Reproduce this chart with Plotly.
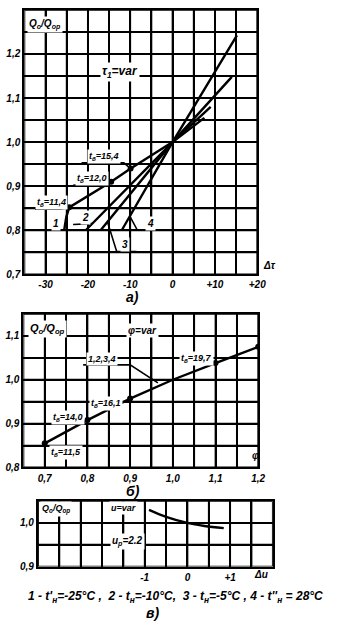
import plotly.graph_objects as go

# ---------------- data ----------------
# a) Q0/Qop vs delta tau, four curves through (0, 1)
a_l1_x = [-25.6, -25.1, -24.4, -14.5, -9.9, 0, 7.5]
a_l1_y = [0.80, 0.83, 0.852, 0.91, 0.94, 1.0, 1.055]
a_l2_x = [-20.5, 0, 9.0]
a_l2_y = [0.80, 1.0, 1.08]
a_l3_x = [-17.0, 0, 14.0]
a_l3_y = [0.80, 1.0, 1.148]
a_l4_x = [-12.0, 0, 15.2]
a_l4_y = [0.80, 1.0, 1.242]
a_pts_x = [-24.4, -14.5, -9.9]
a_pts_y = [0.852, 0.91, 0.94]
a_pts_lbl = ["t<sub>в</sub>=11,4", "t<sub>в</sub>=12,0", "t<sub>в</sub>=15,4"]
a_xrange = [-35, 20]
a_yrange = [0.7, 1.3]
a_xtick_vals = [-35, -30, -25, -20, -15, -10, -5, 0, 5, 10, 15, 20]
a_xtick_text = ["", "-30", "", "-20", "", "-10", "", "0", "", "+10", "", "+20"]
a_ytick_vals = [0.7, 0.75, 0.8, 0.85, 0.9, 0.95, 1.0, 1.05, 1.1, 1.15, 1.2, 1.25, 1.3]
a_ytick_text = ["0,7", "", "0,8", "", "0,9", "", "1,0", "", "1,1", "", "1,2", "", ""]

# b) Q0/Qop vs phi
b_x = [0.70, 0.80, 0.90, 1.00, 1.10, 1.20]
b_y = [0.855, 0.908, 0.957, 1.0, 1.038, 1.075]
b_pts_x = [0.70, 0.80, 0.90, 1.10, 1.20]
b_pts_y = [0.855, 0.908, 0.957, 1.038, 1.075]
b_xrange = [0.65, 1.2]
b_yrange = [0.8, 1.15]
b_xtick_vals = [0.65, 0.7, 0.75, 0.8, 0.85, 0.9, 0.95, 1.0, 1.05, 1.1, 1.15, 1.2]
b_xtick_text = ["", "0,7", "", "0,8", "", "0,9", "", "1,0", "", "1,1", "", "1,2"]
b_ytick_vals = [0.8, 0.85, 0.9, 0.95, 1.0, 1.05, 1.1, 1.15]
b_ytick_text = ["0,8", "", "0,9", "", "1,0", "", "1,1", ""]

# c) Q0/Qop vs delta u
c_x = [-0.9, -0.5, 0.0, 0.4, 0.85]
c_y = [1.030, 1.014, 1.0, 0.993, 0.988]
c_xrange = [-3.5, 2.0]
c_yrange = [0.9, 1.05]
c_xtick_vals = [-3.5, -3, -2.5, -2, -1.5, -1, -0.5, 0, 0.5, 1, 1.5, 2]
c_xtick_text = ["", "", "", "", "", "-1", "", "0", "", "+1", "", ""]
c_ytick_vals = [0.9, 0.95, 1.0, 1.05]
c_ytick_text = ["0,9", "", "1,0", ""]

FONT = "Liberation Sans"
TF = dict(family=FONT, size=10, color="black", style="italic", weight="bold")

fig = go.Figure()

# grid drawn as line traces built from the tick arrays (placed through each axis' scale)
def grid_trace(xv, yv, xrng, yrng, xa, ya):
    gx, gy = [], []
    for v in xv:
        gx += [v, v, None]
        gy += [yrng[0], yrng[1], None]
    for v in yv:
        gx += [xrng[0], xrng[1], None]
        gy += [v, v, None]
    return go.Scatter(x=gx, y=gy, mode="lines", line=dict(color="black", width=1.8),
                      xaxis=xa, yaxis=ya, showlegend=False, hoverinfo="skip", connectgaps=False)

fig.add_trace(grid_trace(a_xtick_vals, a_ytick_vals, a_xrange, a_yrange, "x", "y"))
fig.add_trace(grid_trace(b_xtick_vals, b_ytick_vals, b_xrange, b_yrange, "x2", "y2"))
fig.add_trace(grid_trace(c_xtick_vals, c_ytick_vals, c_xrange, c_yrange, "x3", "y3"))

LW = 2.4
for xs, ys in [(a_l1_x, a_l1_y), (a_l2_x, a_l2_y), (a_l3_x, a_l3_y), (a_l4_x, a_l4_y)]:
    fig.add_trace(go.Scatter(x=xs, y=ys, mode="lines", line=dict(color="black", width=LW),
                             xaxis="x", yaxis="y", showlegend=False))
fig.add_trace(go.Scatter(x=a_pts_x, y=a_pts_y, mode="markers", marker=dict(color="black", size=6),
                         xaxis="x", yaxis="y", showlegend=False))
fig.add_trace(go.Scatter(x=b_x, y=b_y, mode="lines", line=dict(color="black", width=LW),
                         xaxis="x2", yaxis="y2", showlegend=False))
fig.add_trace(go.Scatter(x=b_pts_x, y=b_pts_y, mode="markers", marker=dict(color="black", size=6),
                         xaxis="x2", yaxis="y2", showlegend=False))
fig.add_trace(go.Scatter(x=c_x, y=c_y, mode="lines", line=dict(color="black", width=LW, shape="spline"),
                         xaxis="x3", yaxis="y3", showlegend=False))


def ax(domain, rng, vals, text, anchor):
    return dict(domain=domain, range=rng, tickmode="array", tickvals=vals, ticktext=text,
                showgrid=True, gridcolor="black", gridwidth=1.8, zeroline=False,
                showline=True, mirror=True, linecolor="black", linewidth=2.2,
                ticks="", tickfont=TF, anchor=anchor, fixedrange=True)


W, H = 352, 627
px = lambda v: v / W
py = lambda v: 1 - v / H

fig.update_layout(
    width=W, height=H, margin=dict(l=0, r=0, t=0, b=0), plot_bgcolor="white", showlegend=False,
    xaxis=ax([px(25), px(264)], a_xrange, a_xtick_vals, a_xtick_text, "y"),
    yaxis=ax([py(277), py(10)], a_yrange, a_ytick_vals, a_ytick_text, "x"),
    xaxis2=ax([px(24), px(265)], b_xrange, b_xtick_vals, b_xtick_text, "y2"),
    yaxis2=ax([py(472), py(317)], b_yrange, b_ytick_vals, b_ytick_text, "x2"),
    xaxis3=ax([px(39), px(280)], c_xrange, c_xtick_vals, c_xtick_text, "y3"),
    yaxis3=ax([py(572), py(506)], c_yrange, c_ytick_vals, c_ytick_text, "x3"),
)

F = dict(family=FONT, size=10, color="black", style="italic", weight="bold")
FS = dict(family=FONT, size=9, color="black", style="italic", weight="bold")
FC = dict(F, size=14)
ann = []
def A(text, x, y, xr="x", yr="y", font=F, bg=None, xanchor="center"):
    d = dict(text=text, x=x, y=y, xref=xr, yref=yr, showarrow=False, font=font,
             xanchor=xanchor, yanchor="middle", borderpad=1)
    if bg:
        d["bgcolor"] = bg
    ann.append(d)

# a)
A("Q<sub>o</sub>/Q<sub>op</sub>", -34.3, 1.268, xanchor="left", bg="white")
A("τ<sub>1</sub>=var", -12.5, 1.16, font=dict(F, size=12), bg="white")
A(a_pts_lbl[2], -16.3, 0.968, font=FS, bg="white")
A(a_pts_lbl[1], -19.0, 0.918, font=FS, bg="white")
A(a_pts_lbl[0], -28.7, 0.863, font=FS, bg="white")
A("1", -27.5, 0.815, bg="white")
A("2", -20.6, 0.828, bg="white")
A("3", -11.2, 0.768, bg="white")
A("4", -5.3, 0.815, bg="white")
A("Δτ", px(277), py(268), "paper", "paper")
A("a)", px(136), py(300), "paper", "paper", font=FC)
# b)
A("Q<sub>o</sub>/Q<sub>op</sub>", 0.66, 1.115, "x2", "y2", font=dict(F, size=11), xanchor="left", bg="white")
A("φ=var", 0.93, 1.113, "x2", "y2", bg="white")
A("1,2,3,4", 0.833, 1.047, "x2", "y2", font=FS, bg="white")
A("t<sub>в</sub>=19,7", 1.055, 1.049, "x2", "y2", font=FS, bg="white")
A("t<sub>в</sub>=21,8", 1.207, 1.073, "x2", "y2", font=FS, xanchor="left")
A("t<sub>в</sub>=16,1", 0.843, 0.947, "x2", "y2", font=FS, bg="white")
A("t<sub>в</sub>=14,0", 0.755, 0.914, "x2", "y2", font=FS, bg="white")
A("t<sub>в</sub>=11,5", 0.75, 0.834, "x2", "y2", font=FS, bg="white")
A("φ", px(262), py(460), "paper", "paper")
A("б)", px(137), py(496), "paper", "paper", font=FC)
# c)
A("Q<sub>o</sub>/Q<sub>op</sub>", -3.45, 1.031, "x3", "y3", font=FS, xanchor="left", bg="white")
A("u=var", -1.5, 1.034, "x3", "y3", font=FS, bg="white")
A("u<sub>p</sub>=2.2", -1.4, 0.957, "x3", "y3", bg="white")
A("Δu", px(268), py(580), "paper", "paper")
A("1 - t'<sub>н</sub>=-25°C ,  2 - t<sub>н</sub>=-10°C,  3 - t<sub>н</sub>=-5°C , 4 - t''<sub>н</sub> = 28°C",
  px(180), py(603), "paper", "paper", font=dict(F, size=12))
A("в)", px(157), py(619), "paper", "paper", font=FC)

# leader lines / underlines
shp = []
def L(xs, ys, xr="x", yr="y"):
    path = "M " + " L ".join(f"{a},{b}" for a, b in zip(xs, ys))
    shp.append(dict(type="path", path=path, xref=xr, yref=yr, line=dict(color="black", width=1.6)))

L([-21.5, -11.5, a_pts_x[2]], [0.953, 0.953, a_pts_y[2]])
L([-23.5, a_pts_x[1]], [0.902, a_pts_y[1]])
L([-32.5, -26.5, a_pts_x[0]], [0.848, 0.848, a_pts_y[0]])
L([-23.5, -19.0], [0.813, 0.815])
L([-15.4, -13.2, -8.5], [0.82, 0.752, 0.752])
L([-10.1, -8.3, -3.0], [0.832, 0.8, 0.8])
L([0.79, 0.90, 0.965], [1.034, 1.034, 0.993], "x2", "y2")

fig.update_layout(annotations=ann, shapes=shp)
fig.write_html("out.html")
